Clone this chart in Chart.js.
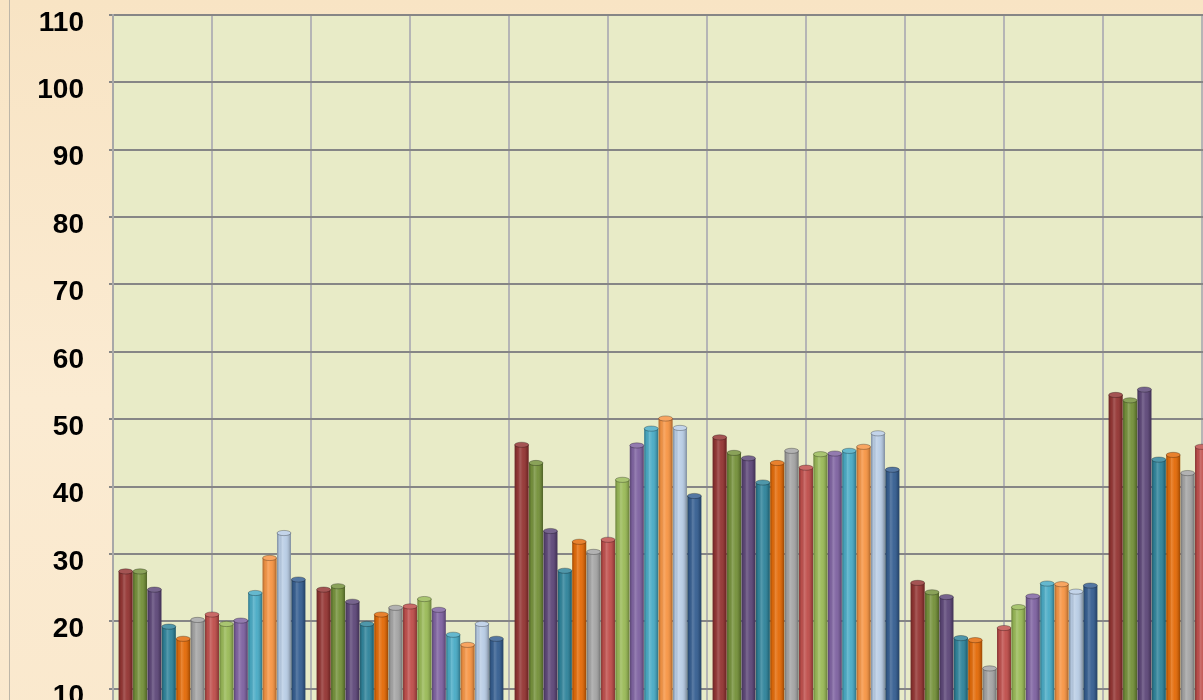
<!DOCTYPE html>
<html>
<head>
<meta charset="utf-8">
<script src="https://cdn.jsdelivr.net/npm/chart.js@4.4.1/dist/chart.umd.min.js"></script>
<style>
  html, body { margin: 0; padding: 0; width: 1203px; height: 700px; overflow: hidden; background: #f9e6c8; }
  #chart { position: absolute; left: 0; top: 0; }
</style>
</head>
<body>
<canvas id="chart" width="1320" height="800"></canvas>
<script>
// categories (their labels sit below the visible crop)
const categories = ['1', '2', '3', '4', '5', '6'];

// one array per series, one value per category
const s1  = [27.4, 24.7, 46.2, 47.3, 25.7, 53.6];
const s2  = [27.4, 25.2, 43.5, 45.0, 24.3, 52.8];
const s3  = [24.7, 22.9, 33.4, 44.2, 23.6, 54.4];
const s4  = [19.2, 19.6, 27.5, 40.6, 17.5, 44.0];
const s5  = [17.4, 21.0, 31.8, 43.5, 17.2, 44.7];
const s6  = [20.2, 22.0, 30.3, 45.3, 13.0, 42.0];
const s7  = [21.0, 22.2, 32.1, 42.8, 19.0, 45.9];
const s8  = [19.6, 23.3, 41.0, 44.8, 22.1, 48.0];
const s9  = [20.1, 21.7, 46.1, 44.9, 23.7, 50.0];
const s10 = [24.2, 18.0, 48.6, 45.3, 25.6, 52.0];
const s11 = [29.4, 16.5, 50.1, 45.9, 25.5, 53.0];
const s12 = [33.1, 19.6, 48.7, 47.9, 24.4, 51.0];
const s13 = [26.2, 17.4, 38.6, 42.5, 25.3, 47.0];
const series = [s1, s2, s3, s4, s5, s6, s7, s8, s9, s10, s11, s12, s13];

// y axis range
const yMin = 0, yMax = 110, yStep = 10;

const COLORS = ['#953735', '#76923c', '#5f497a', '#31859c', '#e46c0a', '#a5a5a5',
  '#c0504d', '#9bbb59', '#8064a2', '#4bacc6', '#f79646', '#b9cde5', '#376092'];

// fond de page + zone de tracé
const backdrop = {
  id: 'backdrop',
  beforeDraw(chart) {
    const { ctx, chartArea: a } = chart;
    ctx.save();
    const bg = ctx.createLinearGradient(0, 0, 0, chart.height);
    bg.addColorStop(0, '#f8e4c4');
    bg.addColorStop(0.5, '#fbebd2');
    bg.addColorStop(1, '#fae8cc');
    ctx.fillStyle = bg;
    ctx.fillRect(0, 0, chart.width, chart.height);
    ctx.strokeStyle = '#bdb6a8';
    ctx.lineWidth = 1;
    ctx.beginPath(); ctx.moveTo(9.5, 0); ctx.lineTo(9.5, chart.height); ctx.stroke();
    ctx.fillStyle = '#e8ebc7';
    ctx.fillRect(a.left, a.top, a.right - a.left, a.bottom - a.top);
    ctx.restore();
  },
};

// effet cylindre sur chaque barre
const cylinder = {
  id: 'cylinder',
  afterDatasetsDraw(chart) {
    const ctx = chart.ctx;
    ctx.save();
    chart.data.datasets.forEach((ds, i) => {
      chart.getDatasetMeta(i).data.forEach((bar) => {
        const { x, y, base, width } = bar.getProps(['x', 'y', 'base', 'width'], true);
        const l = x - width / 2;
        const g = ctx.createLinearGradient(l, 0, l + width, 0);
        g.addColorStop(0, 'rgba(0,0,0,0.30)');
        g.addColorStop(0.18, 'rgba(0,0,0,0.04)');
        g.addColorStop(0.38, 'rgba(255,255,255,0.18)');
        g.addColorStop(0.6, 'rgba(255,255,255,0.03)');
        g.addColorStop(0.85, 'rgba(0,0,0,0.12)');
        g.addColorStop(1, 'rgba(0,0,0,0.32)');
        ctx.fillStyle = g;
        ctx.fillRect(l, y, width, base - y);
        // top cap
        ctx.beginPath();
        ctx.ellipse(x, y, width / 2, 2.6, 0, 0, Math.PI * 2);
        ctx.fillStyle = ds.backgroundColor;
        ctx.fill();
        ctx.fillStyle = 'rgba(255,255,255,0.15)';
        ctx.fill();
        ctx.strokeStyle = 'rgba(0,0,0,0.35)';
        ctx.lineWidth = 0.8;
        ctx.stroke();
      });
    });
    ctx.restore();
  },
};

new Chart(document.getElementById('chart'), {
  type: 'bar',
  data: {
    labels: categories,
    datasets: series.map((data, i) => ({
      label: 'S' + (i + 1),
      data,
      backgroundColor: COLORS[i],
      borderWidth: 0,
      categoryPercentage: 0.945,
      barPercentage: 0.97,
    })),
  },
  options: {
    responsive: false,
    animation: false,
    layout: { padding: { left: 0, top: 15, right: 19, bottom: 0 } },
    plugins: { legend: { display: false }, tooltip: { enabled: false } },
    scales: {
      x: {
        ticks: { display: false },
        grid: { display: false },
        border: { display: false },
        afterFit: (s) => { s.height = 44; },
      },
      xg: {
        type: 'linear', position: 'bottom', offset: false,
        min: 0, max: categories.length * 2,
        ticks: { display: false, stepSize: 1 },
        grid: { color: '#b5b5b5', lineWidth: 2, drawTicks: false, offset: false },
        border: { display: false },
        afterFit: (s) => { s.height = 0; },
      },
      y: {
        min: yMin, max: yMax,
        ticks: {
          stepSize: yStep, color: '#000', padding: 25, labelOffset: 8,
          font: { family: "'Liberation Sans', Arial, sans-serif", size: 28, weight: 'bold', lineHeight: 1 },
        },
        grid: { color: '#868686', lineWidth: 2, tickLength: 4 },
        border: { color: '#a8a8a8', width: 2 },
        afterFit: (s) => { s.width = 113; s.paddingTop = 0; s.paddingBottom = 0; },
      },
    },
  },
  plugins: [backdrop, cylinder],
});
</script>
</body>
</html>
